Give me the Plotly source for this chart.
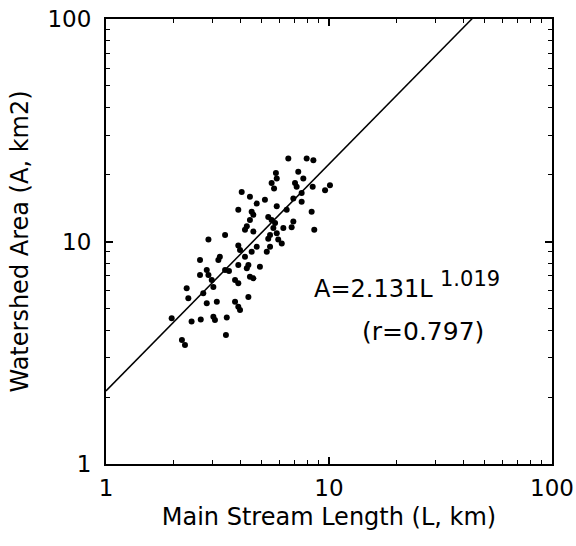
import numpy as np
import plotly.graph_objects as go

# Main stream length (km) and watershed area (km2)
length_km = [6.57, 7.94, 8.51, 7.28, 5.78, 5.83, 7.67, 5.53, 5.67, 7.04,
             7.16, 8.45, 9.60, 10.1, 4.06, 4.42, 7.54, 6.92, 5.16, 4.74,
             5.83, 7.54, 3.92, 4.50, 4.58, 6.46, 8.36, 5.34, 5.53, 5.73,
             4.42, 4.28, 4.20, 6.92, 6.80, 6.24, 5.63, 5.44, 5.34, 4.58,
             3.42, 5.83, 8.59, 2.88, 5.92, 6.14, 3.92, 3.99, 4.74, 5.44,
             5.26, 4.50, 4.20, 3.24, 3.19, 2.64, 3.92, 4.35, 4.28, 4.90,
             3.42, 3.56, 2.83, 2.88, 2.64, 2.98, 3.03, 4.42, 4.58, 3.79,
             3.92, 2.30, 2.73, 2.34, 4.35, 3.14, 3.79, 3.92, 3.99, 2.83,
             1.97, 3.03, 3.08, 3.48, 2.42, 2.66, 3.45, 2.19, 2.26]
area_km2 = [23.6, 23.6, 23.2, 20.6, 20.3, 19.2, 19.2, 18.3, 17.3, 18.3,
            17.6, 17.6, 17.0, 17.9, 16.7, 15.9, 16.5, 15.6, 15.4, 14.8,
            14.4, 15.1, 13.9, 13.6, 13.2, 13.9, 13.6, 12.9, 12.5, 12.1,
            12.5, 11.7, 11.3, 12.3, 11.6, 11.5, 11.5, 10.7, 10.3, 11.1,
            10.7, 10.9, 11.3, 10.2, 10.2, 9.8, 9.6, 9.16, 9.48, 9.48,
            9.0, 9.0, 8.54, 8.54, 8.26, 8.26, 7.84, 7.84, 7.58, 7.70,
            7.45, 7.37, 7.45, 7.07, 7.07, 6.71, 6.25, 6.95, 6.83, 6.71,
            6.49, 6.16, 5.85, 5.56, 5.63, 5.36, 5.36, 5.09, 4.92, 5.28,
            4.52, 4.59, 4.44, 4.55, 4.37, 4.46, 3.80, 3.61, 3.43]

# Regression: A = coef * L ^ expo
coef = 2.131
expo = 1.019
r_value = 0.797

x_tick_vals = [1, 10, 100]
x_tick_text = ["1", "10", "100"]
y_tick_vals = [1, 10, 100]
y_tick_text = ["1", "10", "100"]

fit_L = np.logspace(0, 2, 200)
fit_A = coef * fit_L ** expo

FONT = "DejaVu Sans"
minor_vals = [m * d for d in (1, 10) for m in range(2, 10)]

fig = go.Figure()
fig.add_trace(go.Scatter(x=fit_L, y=fit_A, mode="lines",
                         line=dict(color="black", width=1.5),
                         showlegend=False, hoverinfo="skip"))
fig.add_trace(go.Scatter(x=length_km, y=area_km2, mode="markers",
                         marker=dict(color="black", size=6),
                         showlegend=False))

axis_common = dict(
    type="log", range=[0, 2], showgrid=False, zeroline=False,
    showline=True, linecolor="black", linewidth=2, mirror="allticks",
    ticks="inside", ticklen=7, tickwidth=1.5, tickcolor="black",
    automargin=False, ticklabeloverflow="allow",
    tickfont=dict(family=FONT, size=23, color="black"),
    minor=dict(ticks="inside", ticklen=4, tickwidth=1.2, tickcolor="black",
               tickvals=minor_vals, showgrid=False),
)

fig.update_xaxes(**axis_common, tickvals=x_tick_vals, ticktext=x_tick_text,
                 ticklabelstandoff=2,
                 title=dict(text="Main Stream Length (L, km)", standoff=9,
                            font=dict(family=FONT, size=24, color="black")))
fig.update_yaxes(**axis_common, tickvals=y_tick_vals, ticktext=y_tick_text,
                 ticklabelstandoff=8,
                 title=dict(text="Watershed Area (A, km2)", standoff=12,
                            font=dict(family=FONT, size=24, color="black")))

# equation text: base and exponent drawn as separate labels
fig.add_annotation(x=0.737, y=0.393, xref="paper", yref="paper",
                   text=f"A={coef}L", showarrow=False,
                   xanchor="right", yanchor="middle",
                   font=dict(family=FONT, size=24, color="black"))
fig.add_annotation(x=0.745, y=0.415, xref="paper", yref="paper",
                   text=f"{expo}", showarrow=False,
                   xanchor="left", yanchor="middle",
                   font=dict(family=FONT, size=21, color="black"))
fig.add_annotation(x=0.711, y=0.297, xref="paper", yref="paper",
                   text=f"(r={r_value})", showarrow=False,
                   xanchor="center", yanchor="middle",
                   font=dict(family=FONT, size=25, color="black"))

fig.update_layout(width=576, height=546,
                  margin=dict(l=106, r=24, t=19, b=82),
                  paper_bgcolor="white", plot_bgcolor="white",
                  font=dict(family=FONT, color="black"))

# remove the browser's default body margin so the figure fills the window
fig.write_html("out.html",
               config={"displayModeBar": False},
               post_script="document.body.style.margin='0';"
                           "document.documentElement.style.overflow='hidden';")
